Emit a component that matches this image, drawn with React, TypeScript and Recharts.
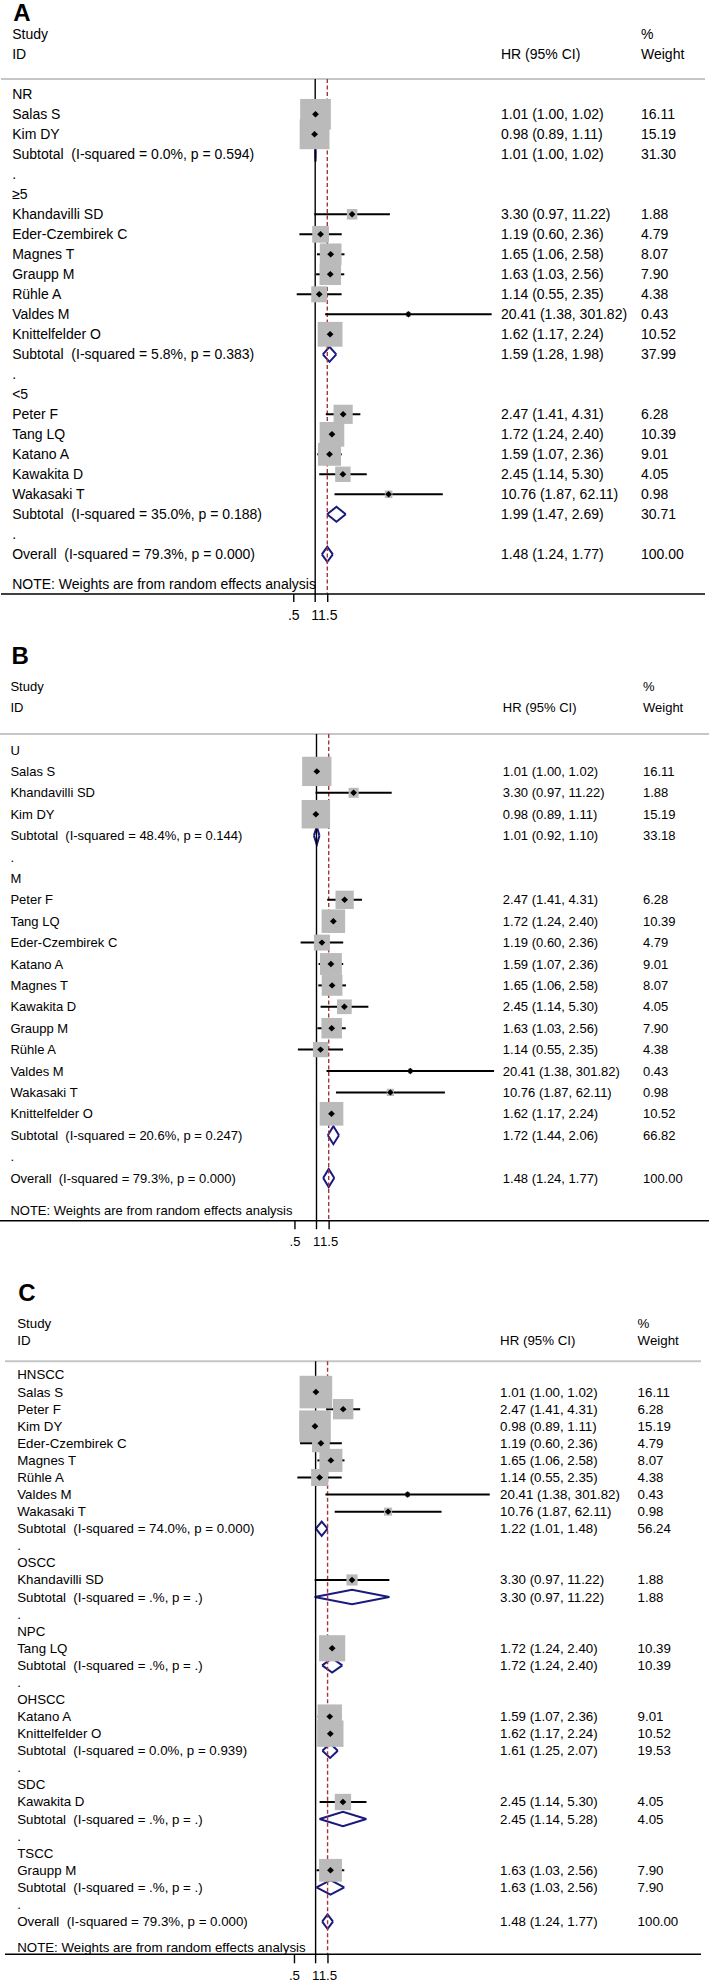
import React from 'react';
import { ComposedChart, XAxis, YAxis, Scatter, Area, Line, ReferenceLine } from 'recharts';

const FONT = '"Liberation Sans", Arial, Helvetica, sans-serif';
const BOX = '#bababa';
const NAVY = '#1a1a7e';
const RED = '#a3343c';

const xTicks = [0.5, 1, 1.5];
const xTickLabels = ['.5', '1', '1.5'];
const noteText = 'NOTE: Weights are from random effects analysis';

// ---------- Panel A ----------
const aLabels = [
  'NR', 'Salas S', 'Kim DY', 'Subtotal  (I-squared = 0.0%, p = 0.594)', '.',
  '≥5', 'Khandavilli SD', 'Eder-Czembirek C', 'Magnes T', 'Graupp M', 'Rühle A', 'Valdes M', 'Knittelfelder O',
  'Subtotal  (I-squared = 5.8%, p = 0.383)', '.',
  '<5', 'Peter F', 'Tang LQ', 'Katano A', 'Kawakita D', 'Wakasaki T',
  'Subtotal  (I-squared = 35.0%, p = 0.188)', '.',
  'Overall  (I-squared = 79.3%, p = 0.000)',
];
const aHR = [null, 1.01, 0.98, 1.01, null, null, 3.30, 1.19, 1.65, 1.63, 1.14, 20.41, 1.62, 1.59, null, null, 2.47, 1.72, 1.59, 2.45, 10.76, 1.99, null, 1.48];
const aLo = [null, 1.00, 0.89, 1.00, null, null, 0.97, 0.60, 1.06, 1.03, 0.55, 1.38, 1.17, 1.28, null, null, 1.41, 1.24, 1.07, 1.14, 1.87, 1.47, null, 1.24];
const aHi = [null, 1.02, 1.11, 1.02, null, null, 11.22, 2.36, 2.58, 2.56, 2.35, 301.82, 2.24, 1.98, null, null, 4.31, 2.40, 2.36, 5.30, 62.11, 2.69, null, 1.77];
const aW = [null, 16.11, 15.19, 31.30, null, null, 1.88, 4.79, 8.07, 7.90, 4.38, 0.43, 10.52, 37.99, null, null, 6.28, 10.39, 9.01, 4.05, 0.98, 30.71, null, 100.00];

// ---------- Panel B ----------
const bLabels = [
  'U', 'Salas S', 'Khandavilli SD', 'Kim DY', 'Subtotal  (I-squared = 48.4%, p = 0.144)', '.',
  'M', 'Peter F', 'Tang LQ', 'Eder-Czembirek C', 'Katano A', 'Magnes T', 'Kawakita D', 'Graupp M', 'Rühle A',
  'Valdes M', 'Wakasaki T', 'Knittelfelder O', 'Subtotal  (I-squared = 20.6%, p = 0.247)', '.',
  'Overall  (I-squared = 79.3%, p = 0.000)',
];
const bHR = [null, 1.01, 3.30, 0.98, 1.01, null, null, 2.47, 1.72, 1.19, 1.59, 1.65, 2.45, 1.63, 1.14, 20.41, 10.76, 1.62, 1.72, null, 1.48];
const bLo = [null, 1.00, 0.97, 0.89, 0.92, null, null, 1.41, 1.24, 0.60, 1.07, 1.06, 1.14, 1.03, 0.55, 1.38, 1.87, 1.17, 1.44, null, 1.24];
const bHi = [null, 1.02, 11.22, 1.11, 1.10, null, null, 4.31, 2.40, 2.36, 2.36, 2.58, 5.30, 2.56, 2.35, 301.82, 62.11, 2.24, 2.06, null, 1.77];
const bW = [null, 16.11, 1.88, 15.19, 33.18, null, null, 6.28, 10.39, 4.79, 9.01, 8.07, 4.05, 7.90, 4.38, 0.43, 0.98, 10.52, 66.82, null, 100.00];

// ---------- Panel C ----------
const cLabels = [
  'HNSCC', 'Salas S', 'Peter F', 'Kim DY', 'Eder-Czembirek C', 'Magnes T', 'Rühle A', 'Valdes M', 'Wakasaki T',
  'Subtotal  (I-squared = 74.0%, p = 0.000)', '.',
  'OSCC', 'Khandavilli SD', 'Subtotal  (I-squared = .%, p = .)', '.',
  'NPC', 'Tang LQ', 'Subtotal  (I-squared = .%, p = .)', '.',
  'OHSCC', 'Katano A', 'Knittelfelder O', 'Subtotal  (I-squared = 0.0%, p = 0.939)', '.',
  'SDC', 'Kawakita D', 'Subtotal  (I-squared = .%, p = .)', '.',
  'TSCC', 'Graupp M', 'Subtotal  (I-squared = .%, p = .)', '.',
  'Overall  (I-squared = 79.3%, p = 0.000)',
];
const cHR = [null, 1.01, 2.47, 0.98, 1.19, 1.65, 1.14, 20.41, 10.76, 1.22, null, null, 3.30, 3.30, null, null, 1.72, 1.72, null, null, 1.59, 1.62, 1.61, null, null, 2.45, 2.45, null, null, 1.63, 1.63, null, 1.48];
const cLo = [null, 1.00, 1.41, 0.89, 0.60, 1.06, 0.55, 1.38, 1.87, 1.01, null, null, 0.97, 0.97, null, null, 1.24, 1.24, null, null, 1.07, 1.17, 1.25, null, null, 1.14, 1.14, null, null, 1.03, 1.03, null, 1.24];
const cHi = [null, 1.02, 4.31, 1.11, 2.36, 2.58, 2.35, 301.82, 62.11, 1.48, null, null, 11.22, 11.22, null, null, 2.40, 2.40, null, null, 2.36, 2.24, 2.07, null, null, 5.30, 5.28, null, null, 2.56, 2.56, null, 1.77];
const cW = [null, 16.11, 6.28, 15.19, 4.79, 8.07, 4.38, 0.43, 0.98, 56.24, null, null, 1.88, 1.88, null, null, 10.39, 10.39, null, null, 9.01, 10.52, 19.53, null, null, 4.05, 4.05, null, null, 7.90, 7.90, null, 100.00];

type Cfg = {
  letter: string; height: number; marginL: number; marginR: number; xAxisH: number;
  yDom: [number, number]; xDom: [number, number]; headerIdx: number; letterIdx: number;
  studyIdx: number; idIdx: number; labelX: number; hrX: number; wX: number; font: number;
  boxK: number; dh: number; tickSize: number; tickMargin: number;
};

const cfgA: Cfg = {
  letter: 'A', height: 632, marginL: 1, marginR: 4, xAxisH: 38,
  yDom: [-4.715, 24.985], xDom: [Math.exp(-10.168), Math.exp(12.615)],
  headerIdx: -0.765, letterIdx: -3.65, studyIdx: -3, idIdx: -2,
  labelX: 12.2, hrX: 501, wX: 641, font: 14, boxK: 7.65, dh: 0.375, tickSize: 8, tickMargin: 8.3,
};
const cfgB: Cfg = {
  letter: 'B', height: 618, marginL: 0, marginR: 0, xAxisH: 29.3,
  yDom: [-5.514, 21.995], xDom: [Math.exp(-10.177), Math.exp(12.621)],
  headerIdx: -0.748, letterIdx: -4.0, studyIdx: -2.99, idIdx: -1.98,
  labelX: 10.4, hrX: 502.8, wX: 643, font: 13, boxK: 7.3, dh: 0.42, tickSize: 8.5, tickMargin: 8,
};
const cfgC: Cfg = {
  letter: 'C', height: 733, marginL: 5, marginR: 8, xAxisH: 28.7,
  yDom: [-7.318, 33.917], xDom: [Math.exp(-10.184), Math.exp(12.636)],
  headerIdx: -0.802, letterIdx: -4.35, studyIdx: -3.03, idIdx: -2,
  labelX: 17.2, hrX: 500.1, wX: 637.6, font: 13.3, boxK: 8.12, dh: 0.42, tickSize: 9, tickMargin: 7,
};

const f2 = (v: number) => v.toFixed(2);
const isPooled = (l: string) => l.startsWith('Subtotal') || l.startsWith('Overall');

function Panel({ cfg, labels, hr, lo, hi, w }: { cfg: Cfg; labels: string[]; hr: (number | null)[]; lo: (number | null)[]; hi: (number | null)[]; w: (number | null)[] }) {
  const rows = labels.map((label, i) => ({ i, label, hr: hr[i], lo: lo[i], hi: hi[i], w: w[i] }));
  const studyRows = rows.filter((r) => r.hr != null && !isPooled(r.label));
  const studies = studyRows.map((r) => ({ x: r.hr as number, y: r.i, w: r.w as number }));
  const pooled = rows.filter((r) => r.hr != null && isPooled(r.label));
  const overall = pooled.find((r) => r.label.startsWith('Overall'))!;
  const textRows: any[] = [
    { x: 1, y: cfg.letterIdx, letter: cfg.letter },
    { x: 1, y: cfg.studyIdx, label: 'Study', hrText: '', wText: '%' },
    { x: 1, y: cfg.idIdx, label: 'ID', hrText: 'HR (95% CI)', wText: 'Weight' },
    ...rows.map((r) => ({
      x: 1, y: r.i, label: r.label,
      hrText: r.hr != null ? `${f2(r.hr)} (${f2(r.lo as number)}, ${f2(r.hi as number)})` : '',
      wText: r.w != null ? f2(r.w) : '',
    })),
    { x: 1, y: labels.length + 0.5, label: noteText, hrText: '', wText: '' },
  ];

  const textShape = (p: any) => {
    const { cy, payload } = p;
    if (payload.letter) {
      return (
        <text x={cfg.labelX + 1} y={cy} fontSize={24} fontWeight="bold" fontFamily={FONT} fill="#000">
          {payload.letter}
        </text>
      );
    }
    return (
      <g fontFamily={FONT} fontSize={cfg.font} fill="#000">
        {payload.label ? <text x={cfg.labelX} y={cy} dominantBaseline="central" style={{ whiteSpace: 'pre' }}>{payload.label}</text> : null}
        {payload.hrText ? <text x={cfg.hrX} y={cy} dominantBaseline="central">{payload.hrText}</text> : null}
        {payload.wText ? <text x={cfg.wX} y={cy} dominantBaseline="central">{payload.wText}</text> : null}
      </g>
    );
  };

  const boxShape = (p: any) => {
    const s = cfg.boxK * Math.sqrt(p.payload.w);
    return <rect x={p.cx - s / 2} y={p.cy - s / 2} width={s} height={s} fill={BOX} />;
  };
  const pointShape = (p: any) => (
    <polygon points={`${p.cx - 3.4},${p.cy} ${p.cx},${p.cy - 3.2} ${p.cx + 3.4},${p.cy} ${p.cx},${p.cy + 3.2}`} fill="#000" />
  );

  return (
    <ComposedChart width={709} height={cfg.height} margin={{ top: 0, right: cfg.marginR, bottom: 0, left: cfg.marginL }}>
      <XAxis
        type="number" dataKey="x" scale="log" domain={cfg.xDom} allowDataOverflow
        ticks={xTicks} interval={0}
        tickFormatter={(v: number) => xTickLabels[xTicks.indexOf(v)] ?? String(v)}
        height={cfg.xAxisH} tickSize={cfg.tickSize} tickMargin={cfg.tickMargin}
        axisLine={{ stroke: '#000', strokeWidth: 1.4 }}
        tickLine={{ stroke: '#000', strokeWidth: 1.4 }}
        tick={{ fill: '#000', fontSize: cfg.font, fontFamily: FONT }}
      />
      <YAxis type="number" dataKey="y" domain={cfg.yDom} reversed hide allowDataOverflow />
      <ReferenceLine y={cfg.headerIdx} stroke="#c6c6c6" strokeWidth={2} />
      <ReferenceLine segment={[{ x: 1, y: cfg.headerIdx }, { x: 1, y: cfg.yDom[1] }]} stroke="#000" strokeWidth={1.4} />
      <ReferenceLine segment={[{ x: overall.hr as number, y: cfg.headerIdx }, { x: overall.hr as number, y: cfg.yDom[1] }]} stroke={RED} strokeWidth={1.4} strokeDasharray="4 2.5" />
      <Scatter data={studies} isAnimationActive={false} shape={boxShape} />
      {studyRows.map((r) => (
        <Line
          key={'ci' + r.i}
          data={[{ x: r.lo, y: r.i }, { x: r.hi, y: r.i }]}
          dataKey="y" type="linear" stroke="#000" strokeWidth={2} dot={false} activeDot={false}
          isAnimationActive={false}
        />
      ))}
      <Scatter data={studies} isAnimationActive={false} shape={pointShape} />
      {pooled.map((r) => (
        <Area
          key={r.i}
          data={[
            { x: r.lo, r: [r.i, r.i] },
            { x: r.hr, r: [r.i - cfg.dh, r.i + cfg.dh] },
            { x: r.hi, r: [r.i, r.i] },
          ]}
          dataKey="r" type="linear" stroke={NAVY} strokeWidth={2} strokeLinejoin="miter"
          fill="#ffffff" fillOpacity={1} dot={false} activeDot={false} isAnimationActive={false}
        />
      ))}
      <Scatter data={textRows} isAnimationActive={false} shape={textShape} />
    </ComposedChart>
  );
}

export default function App() {
  return (
    <div style={{ position: 'absolute', left: 0, top: 0, width: 709, height: 1983, background: '#fff' }}>
      <Panel cfg={cfgA} labels={aLabels} hr={aHR} lo={aLo} hi={aHi} w={aW} />
      <Panel cfg={cfgB} labels={bLabels} hr={bHR} lo={bLo} hi={bHi} w={bW} />
      <Panel cfg={cfgC} labels={cLabels} hr={cHR} lo={cLo} hi={cHi} w={cW} />
    </div>
  );
}
